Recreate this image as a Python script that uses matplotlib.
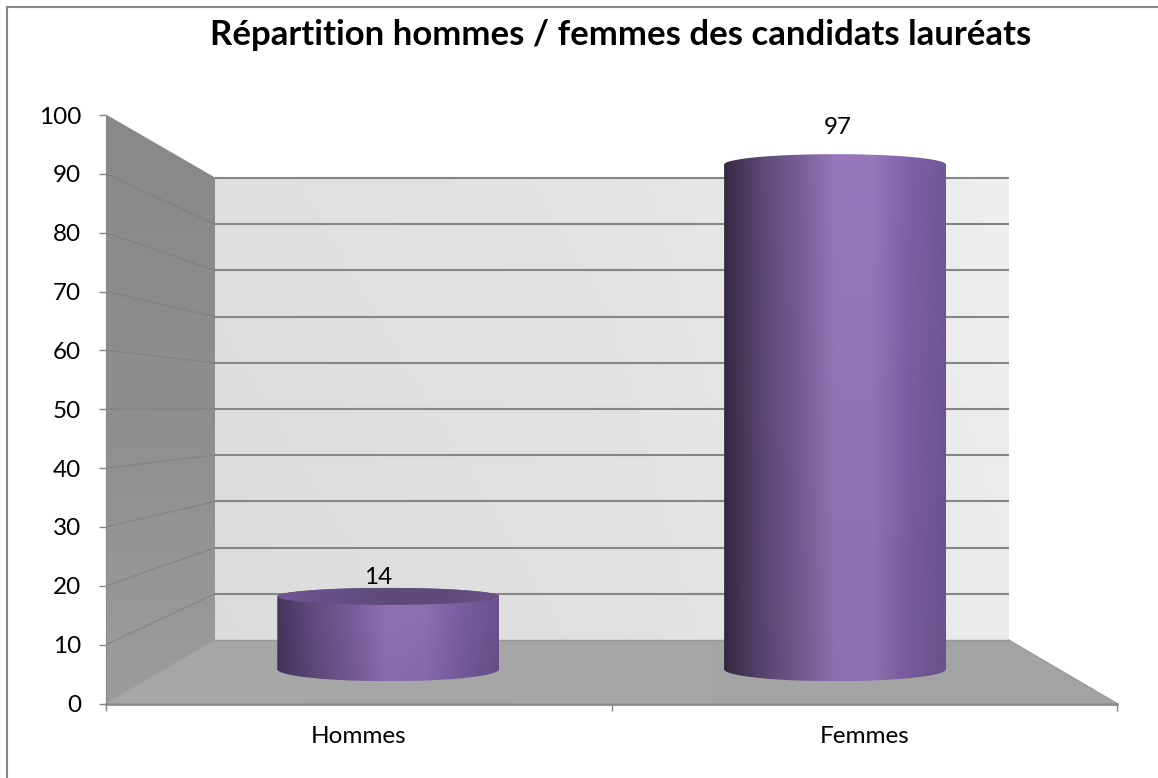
import matplotlib
matplotlib.use('Agg')
import matplotlib.pyplot as plt
from matplotlib.colors import LinearSegmentedColormap
from matplotlib.lines import Line2D
from matplotlib.patches import Polygon
import numpy as np

categories = ['Hommes', 'Femmes']
values = [14, 97]
y_ticks = list(range(0, 101, 10))
title = 'Répartition hommes / femmes des candidats lauréats'

plt.rcParams['font.family'] = ['Lato', 'DejaVu Sans']

W, H = 1158, 778
fig = plt.figure(figsize=(W / 100, H / 100), dpi=100, facecolor='white')
ax = fig.add_axes([106 / W, 1 - 703.5 / H, (1117 - 106) / W, (703.5 - 115) / H])
ax.set_facecolor('none')

# the axes is the front plane of the box, depth 0 = front, depth 1 = back wall
XMAX, YMAX = len(categories), 100
SHRINK = 0.785
OX, OY = 0.2156, 10.79


def proj(x, v, d):
    k = 1 - d * (1 - SHRINK)
    return x * k + d * OX, v * k + d * OY


def fill_grad(verts, colors, horizontal=True, zorder=1, vert_fade=None):
    # gradient image clipped to a polygon
    verts = np.array(verts)
    cmap = LinearSegmentedColormap.from_list('g', colors)
    t = np.linspace(0, 1, 256)
    rgb = cmap(t)[:, :3]
    img = rgb[None, :, :] if horizontal else rgb[:, None, :]
    if vert_fade is not None:
        fade = np.linspace(vert_fade[0], vert_fade[1], 64)[:, None, None]
        img = np.clip(img * fade, 0, 1)
    ext = [verts[:, 0].min(), verts[:, 0].max(), verts[:, 1].min(), verts[:, 1].max()]
    im = ax.imshow(img, extent=ext, origin='lower', aspect='auto', zorder=zorder,
                   interpolation='bilinear')
    im.set_clip_path(Polygon(verts, closed=True, transform=ax.transData))


# back wall
fill_grad([proj(0, 0, 1), proj(XMAX, 0, 1), proj(XMAX, YMAX, 1), proj(0, YMAX, 1)],
          ['#dfdfdf', '#e4e4e4', '#efefef'], zorder=1, vert_fade=(0.985, 1.0))
# left wall
fill_grad([proj(0, 0, 0), proj(0, 0, 1), proj(0, YMAX, 1), proj(0, YMAX, 0)],
          ['#9c9c9c', '#8e8e8e', '#898989'], horizontal=False, zorder=1)
# floor
fill_grad([proj(0, 0, 0), proj(XMAX, 0, 0), proj(XMAX, 0, 1), proj(0, 0, 1)],
          ['#a8a8a8', '#a3a3a3'], zorder=1.5)

for v in y_ticks:
    xb, yb = proj(0, v, 1)
    xe, ye = proj(XMAX, v, 1)
    if v > 0:
        ax.plot([xb, xe], [yb, ye], color='#868686', lw=1.5, zorder=2, solid_capstyle='butt')
        xf, yf = proj(0, v, 0)
        ax.plot([xf, xb], [yf, yb], color='#7a7a7a', lw=1, alpha=0.55, zorder=2)
# floor edges
xb, yb = proj(0, 0, 1)
xe, ye = proj(XMAX, 0, 1)
ax.plot([xb, xe], [yb, ye], color='#969696', lw=1, zorder=2)
ax.plot([0, xb], [0, yb], color='#a0a0a0', lw=1, zorder=2)
ax.plot([XMAX, xe], [0, ye], color='#9a9a9a', lw=1, zorder=2)

# cylinders
DEPTH = 0.54
HALF = 0.2195
px_y = (703.5 - 115) / 100
bar_colors = [
    ['#42345a', '#5f4a7c', '#755a96', '#8e6eb0', '#8a6cae', '#775a9c', '#66508a'],
    ['#33283f', '#59466f', '#73598f', '#9272b4', '#9272b4', '#7b5ca0', '#6c5490'],
]
label_offset = [(-10, 19), (3, 37)]
top_ry = [8.5, 10.5]
t_lo = np.linspace(np.pi, 2 * np.pi, 80)
t_hi = np.linspace(0, np.pi, 80)

for i, (cat, val) in enumerate(zip(categories, values)):
    xc, y0 = proj(i + 0.5, 0, DEPTH)
    _, y1 = proj(i + 0.5, val, DEPTH)
    ry0 = 12 / px_y
    ry1 = top_ry[i] / px_y
    outline = np.vstack([
        np.column_stack([xc + HALF * np.cos(t_lo), y0 + ry0 * np.sin(t_lo)]),
        np.column_stack([xc + HALF * np.cos(t_hi), y1 + ry1 * np.sin(t_hi)]),
    ])
    fill_grad(outline, bar_colors[i], zorder=3, vert_fade=(0.97, 1.04))
    if val < 50:
        # top face is only seen when it is under eye level
        top = np.column_stack([xc + HALF * np.cos(2 * t_hi), y1 + ry1 * np.sin(2 * t_hi)])
        fill_grad(top, ['#705596', '#65508a', '#5f4a78', '#5f4a78', '#6a5288'], zorder=3.5)
    dx, dy = label_offset[i]
    ax.annotate(str(val), (xc, y1), xytext=(dx, dy), textcoords='offset pixels',
                ha='center', va='center', fontsize=17.5, color='black', zorder=5)

ax.set_xlim(0, XMAX)
ax.set_ylim(0, YMAX)
ax.set_yticks(y_ticks)
ax.set_xticks(range(XMAX + 1))
ax.set_xticklabels([])
ax.set_xticks([i + 0.5 for i in range(XMAX)], minor=True)
ax.set_xticklabels(categories, minor=True)
ax.tick_params(axis='y', direction='out', length=5, width=1, color='#868686', labelsize=17.5, pad=13)
ax.tick_params(axis='x', which='major', direction='out', length=5, width=1, color='#868686')
ax.tick_params(axis='x', which='minor', length=0, labelsize=17.5, pad=16)
for s in ['top', 'right']:
    ax.spines[s].set_visible(False)
ax.spines['left'].set_color('#868686')
ax.spines['bottom'].set_color('#8a8a8a')
ax.spines['bottom'].set_linewidth(2)
ax.spines['bottom'].set_zorder(4)

fig.text(621 / W, 1 - 35 / H, title, ha='center', va='center', fontsize=25,
         fontweight='bold', color='black')

# chart border, only top and left are in the picture
fx, fy = 7.5 / W, 1 - 7 / H
fig.add_artist(Line2D([fx, fx], [0, fy], color='#868686', lw=1.5, transform=fig.transFigure))
fig.add_artist(Line2D([fx, 1], [fy, fy], color='#868686', lw=1.5, transform=fig.transFigure))

fig.savefig('out.png', dpi=100)
